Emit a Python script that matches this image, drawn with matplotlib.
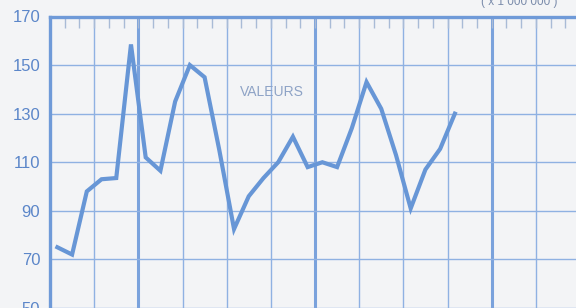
import matplotlib.pyplot as plt

# -------- Data --------
values = [75, 72, 98, 103, 103.5, 158.5, 112, 106.5, 135, 150, 145, 115,
          82.5, 96, 103.5, 110, 120.5, 108, 110, 108, 124, 143, 132, 113,
          91, 107, 115.5, 130]
y_ticks = [50, 70, 90, 110, 130, 150, 170]
label_text = "VALEURS"
unit_text = "( x 1 000 000 )"

x = [i + 0.5 for i in range(len(values))]

paper = "#f3f4f6"
blue_line = "#6796d6"
grid_blue = "#8fb1e2"
text_blue = "#5b86c9"

plt.rcParams["font.family"] = ["Liberation Sans", "DejaVu Sans"]

fig = plt.figure(figsize=(5.76, 3.08), dpi=100, facecolor=paper)
ax = fig.add_axes([50 / 576, 0, 530 / 576, 291.5 / 308])
ax.set_facecolor(paper)

ax.set_xlim(0, 36)
ax.set_ylim(50, 170)

# -------- Grid --------
for gx in range(3, 36, 3):
    thick = (gx - 6) % 12 == 0
    ax.axvline(gx, color=grid_blue if not thick else "#7aa2dc",
               lw=2.2 if thick else 1.0, zorder=1)
for gy in y_ticks[:-1]:
    ax.axhline(gy, color=grid_blue, lw=1.0, zorder=1)

# -------- Series --------
ax.plot(x, values, color=blue_line, lw=3, solid_joinstyle="miter", zorder=3)

# -------- Axes formatting --------
for side in ["right", "bottom"]:
    ax.spines[side].set_visible(False)
ax.spines["left"].set_color("#6f9ad8")
ax.spines["left"].set_linewidth(2.4)
ax.spines["top"].set_color("#6f9ad8")
ax.spines["top"].set_linewidth(2.4)

ax.set_yticks(y_ticks)
ax.set_yticklabels([str(v) for v in y_ticks])
ax.tick_params(axis="y", length=0, pad=7, labelsize=12, labelcolor=text_blue)

ax.xaxis.tick_top()
ax.set_xticks(range(1, 36))
ax.set_xticklabels([])
ax.tick_params(axis="x", direction="in", length=8, width=1.0, color="#a9bbd6")

ax.text(15.1, 138.9, label_text, ha="center", va="center",
        fontsize=10, color="#8ea3c6", zorder=4)
fig.text(519 / 576, 1 - 5 / 308, unit_text, ha="center", va="baseline",
         fontsize=8.5, color="#7b8cab")

fig.savefig("out.png", dpi=100, facecolor=paper)
